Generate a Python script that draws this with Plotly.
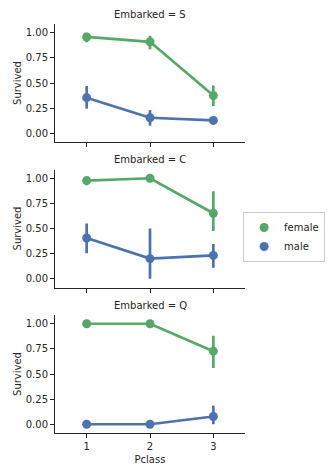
import plotly.graph_objects as go

# Survival rate by passenger class, split by sex, one panel per port of embarkation
pclass = [1, 2, 3]
ports = ["S", "C", "Q"]

female_mean = {"S": [0.958, 0.910, 0.375], "C": [0.977, 1.000, 0.652], "Q": [1.000, 1.000, 0.727]}
female_lo = {"S": [0.905, 0.835, 0.270], "C": [0.930, 1.000, 0.475], "Q": [1.000, 1.000, 0.560]}
female_hi = {"S": [1.000, 0.970, 0.475], "C": [1.000, 1.000, 0.870], "Q": [1.000, 1.000, 0.880]}

male_mean = {"S": [0.354, 0.154, 0.128], "C": [0.405, 0.200, 0.232], "Q": [0.000, 0.000, 0.077]}
male_lo = {"S": [0.245, 0.075, 0.085], "C": [0.255, 0.000, 0.110], "Q": [0.000, 0.000, 0.000]}
male_hi = {"S": [0.470, 0.230, 0.165], "C": [0.550, 0.500, 0.345], "Q": [0.000, 0.000, 0.185]}

y_ticks = [0.0, 0.25, 0.5, 0.75, 1.0]
y_tick_text = ["0.00", "0.25", "0.50", "0.75", "1.00"]

GREEN = "#55a868"
BLUE = "#4c72b0"
INK = "#262626"
FONT = "DejaVu Sans"

# figure geometry (pixels)
W, H = 330, 473
M_L, M_R, M_T, M_B = 55, 85, 24, 40
plot_h = H - M_T - M_B
panel_h = 118
panel_tops = [24, 169.5, 315]


def to_paper(py):
    return (H - M_B - py) / plot_h


fig = go.Figure()
layout = {}

for i, port in enumerate(ports):
    n = "" if i == 0 else str(i + 1)
    xa, ya = "x" + n, "y" + n
    top = panel_tops[i]
    dom = [to_paper(top + panel_h), to_paper(top)]

    for sex, mean, lo, hi, color in [
        ("female", female_mean, female_lo, female_hi, GREEN),
        ("male", male_mean, male_lo, male_hi, BLUE),
    ]:
        m = mean[port]
        fig.add_trace(go.Scatter(
            x=pclass, y=m, mode="lines+markers",
            line=dict(color=color, width=2.7),
            marker=dict(color=color, size=9),
            error_y=dict(
                type="data", symmetric=False,
                array=[h - v for h, v in zip(hi[port], m)],
                arrayminus=[v - l for v, l in zip(m, lo[port])],
                color=color, thickness=2.7, width=0,
            ),
            xaxis=xa, yaxis=ya, showlegend=False, name=sex,
        ))

    bottom = i == len(ports) - 1
    layout["xaxis" + n] = dict(
        domain=[0, 1], anchor=ya, range=[0.5, 3.5],
        tickvals=pclass, ticktext=[str(p) for p in pclass] if bottom else ["", "", ""],
        ticks="outside", ticklen=4, tickcolor=INK, tickwidth=1,
        showline=True, linecolor=INK, linewidth=1, showgrid=False, zeroline=False,
        tickfont=dict(size=10, color=INK, family=FONT),
        title=dict(text="Pclass" if bottom else "", font=dict(size=10, color=INK, family=FONT), standoff=4),
        **({} if i == 0 else {"matches": "x"}),
    )
    layout["yaxis" + n] = dict(
        domain=dom, anchor=xa, range=[-0.087, 1.087],
        tickvals=y_ticks, ticktext=y_tick_text,
        ticks="outside", ticklen=4, tickcolor=INK, tickwidth=1,
        showline=True, linecolor=INK, linewidth=1, showgrid=False, zeroline=False,
        tickfont=dict(size=10, color=INK, family=FONT),
        title=dict(text="Survived", font=dict(size=10, color=INK, family=FONT), standoff=2),
    )
    fig.add_annotation(
        text=f"Embarked = {port}", xref="paper", yref="paper",
        x=0.5, y=dom[1], xanchor="center", yanchor="bottom", yshift=2,
        showarrow=False, font=dict(size=10, color=INK, family=FONT),
    )

# legend entries
for sex, color in [("female", GREEN), ("male", BLUE)]:
    fig.add_trace(go.Scatter(
        x=[None], y=[None], mode="markers", name=sex,
        marker=dict(color=color, size=9), showlegend=True,
    ))

fig.update_layout(
    width=W, height=H,
    margin=dict(l=M_L, r=M_R, t=M_T, b=M_B, autoexpand=False),
    paper_bgcolor="white", plot_bgcolor="white",
    font=dict(family=FONT, size=10, color=INK),
    legend=dict(
        x=0.99, y=to_paper(237), xanchor="left", yanchor="middle",
        bordercolor="#cccccc", borderwidth=1, bgcolor="white",
        font=dict(size=10, color=INK, family=FONT),
        itemwidth=30, tracegroupgap=0,
    ),
    **layout,
)

fig.write_html("out.html")
